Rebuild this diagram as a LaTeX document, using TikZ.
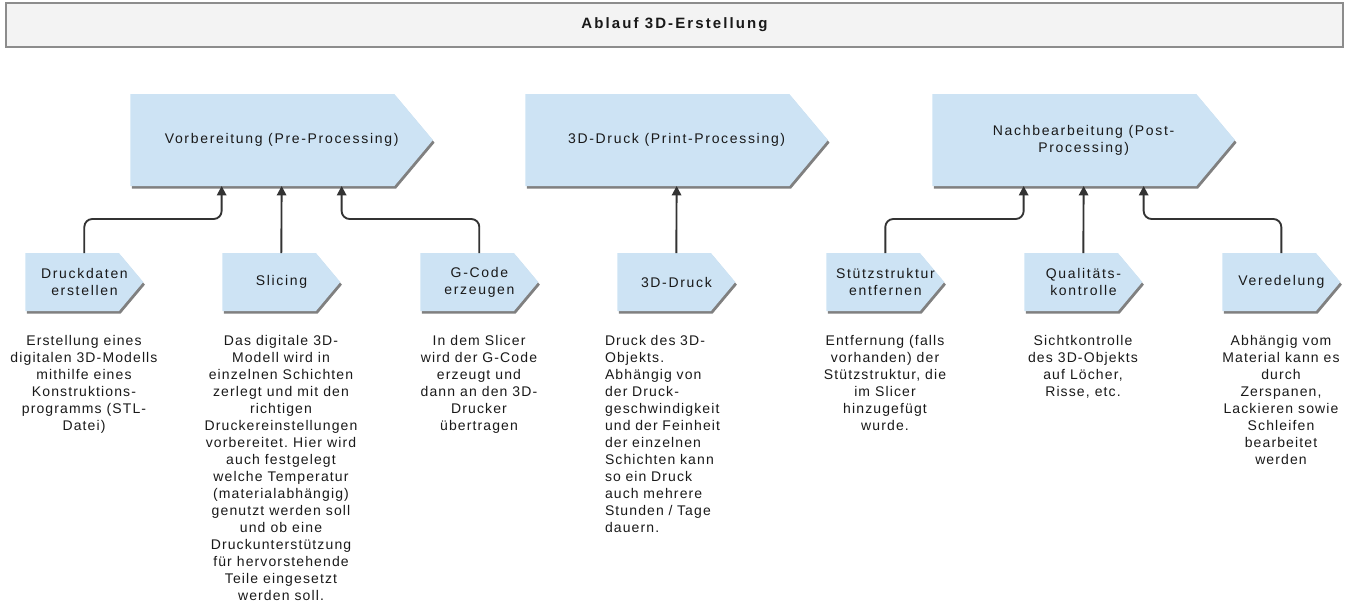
\documentclass[tikz,border=0pt]{standalone}
\usepackage{fontspec}
\setmainfont[LetterSpace=8]{Liberation Sans}
\newfontfamily\labelfont[LetterSpace=12]{Liberation Sans}
\newfontfamily\titlefont[LetterSpace=14]{Liberation Sans}
\frenchspacing
\usetikzlibrary{shapes.symbols,shadows,arrows.meta,calc,positioning}

\definecolor{phasefill}{RGB}{205,227,244}
\definecolor{shadowgray}{RGB}{128,128,128}
\definecolor{linkgray}{RGB}{51,51,51}
\definecolor{titlefill}{RGB}{243,243,243}
\definecolor{titleline}{RGB}{140,140,140}
\definecolor{textgray}{RGB}{25,25,25}

\tikzset{
  titlebox/.style={draw=titleline, fill=titlefill, line width=0.9pt, minimum width=1002.75pt, minimum height=33pt, text=textgray, font=\titlefont\bfseries\fontsize{11.25}{13}\selectfont},
  phase/.style={signal, signal to=east, signal from=nowhere, signal pointer angle=100, fill=phasefill, draw=none, minimum width=227pt, minimum height=69pt, inner sep=2pt, drop shadow={shadow xshift=1.2pt, shadow yshift=-2pt, fill=shadowgray, opacity=1}},
  task/.style={phase, minimum width=88.5pt, minimum height=43.5pt},
  phasetext/.style={xshift=14.5pt, inner sep=0pt, align=center, text=textgray, font=\labelfont\fontsize{10.5}{12.75}\selectfont},
  tasktext/.style={phasetext, xshift=-5.25pt},
  note/.style={anchor=north, align=center, inner sep=0pt, text=textgray, font=\fontsize{10.5}{12.75}\selectfont},
  link/.style={draw=linkgray, line width=1.4pt, rounded corners=6pt, -{Triangle[width=7pt,length=7pt]}}
}

\begin{document}
\begin{tikzpicture}[x=0.75pt,y=-0.75pt]
\useasboundingbox (0,0) rectangle (1366,601);

% title
\node[titlebox] (title) at (674.5,25) {Ablauf 3D-Erstellung};

% phases
\node[phase, anchor=west, label={[phasetext]center:Vorbereitung (Pre-Processing)}] (pre) at (130,140) {};
\node[phase, anchor=west, label={[phasetext]center:3D-Druck (Print-Processing)}] (print) at (525,140) {};
\node[phase, anchor=west, label={[phasetext]center:Nachbearbeitung (Post-\\Processing)}] (post) at (932,140) {};

% tasks
\node[task, anchor=west, label={[tasktext]center:Druckdaten\\erstellen}] (druck) at (25,282) {};
\node[task, anchor=west, label={[tasktext]center:Slicing}] (slice) at (222,282) {};
\node[task, anchor=west, label={[tasktext]center:G-Code\\erzeugen}] (gcode) at (420,282) {};
\node[task, anchor=west, label={[tasktext]center:3D-Druck}] (printjob) at (617,282) {};
\node[task, anchor=west, label={[tasktext]center:Stützstruktur\\entfernen}] (support) at (826,282) {};
\node[task, anchor=west, label={[tasktext]center:Qualitäts-\\kontrolle}] (check) at (1024,282) {};
\node[task, anchor=west, label={[tasktext]center:Veredelung}] (finish) at (1222,282) {};

% connectors
\draw[link] ($(druck.west)!0.5!(druck.east)+(0,-29)$) -- ++(0,-34) -| ($(pre.west)!0.5!(pre.east)+(-60,46)$);
\draw[link] ($(slice.west)!0.5!(slice.east)+(0,-29)$) -- ($(pre.west)!0.5!(pre.east)+(0,46)$);
\draw[link] ($(gcode.west)!0.5!(gcode.east)+(0,-29)$) -- ++(0,-34) -| ($(pre.west)!0.5!(pre.east)+(60,46)$);
\draw[link] ($(printjob.west)!0.5!(printjob.east)+(0,-29)$) -- ($(print.west)!0.5!(print.east)+(0,46)$);
\draw[link] ($(support.west)!0.5!(support.east)+(0,-29)$) -- ++(0,-34) -| ($(post.west)!0.5!(post.east)+(-60,46)$);
\draw[link] ($(check.west)!0.5!(check.east)+(0,-29)$) -- ($(post.west)!0.5!(post.east)+(0,46)$);
\draw[link] ($(finish.west)!0.5!(finish.east)+(0,-29)$) -- ++(0,-34) -| ($(post.west)!0.5!(post.east)+(60,46)$);

% notes
\node[note] (druck-note) at (84,335) {Erstellung eines\\digitalen 3D-Modells\\mithilfe eines\\Konstruktions-\\programms (STL-\\Datei)};
\node[note] (slice-note) at (281,335) {Das digitale 3D-\\Modell wird in\\einzelnen Schichten\\zerlegt und mit den\\richtigen\\Druckereinstellungen\\vorbereitet. Hier wird\\auch festgelegt\\welche Temperatur\\(materialabhängig)\\genutzt werden soll\\und ob eine\\Druckunterstützung\\für hervorstehende\\Teile eingesetzt\\werden soll.};
\node[note] (gcode-note) at (479,335) {In dem Slicer\\wird der G-Code\\erzeugt und\\dann an den 3D-\\Drucker\\übertragen};
\node[note, text width=108pt, align=left] (printjob-note) at (677,335) {Druck des 3D-\\Objekts.\\Abhängig von\\der Druck-\\geschwindigkeit\\und der Feinheit\\der einzelnen\\Schichten kann\\so ein Druck\\auch mehrere\\Stunden / Tage\\dauern.};
\node[note] (support-note) at (885,335) {Entfernung (falls\\vorhanden) der\\Stützstruktur, die\\im Slicer\\hinzugefügt\\wurde.};
\node[note] (check-note) at (1083,335) {Sichtkontrolle\\des 3D-Objekts\\auf Löcher,\\Risse, etc.};
\node[note] (finish-note) at (1281,335) {Abhängig vom\\Material kann es\\durch\\Zerspanen,\\Lackieren sowie\\Schleifen\\bearbeitet\\werden};
\end{tikzpicture}
\end{document}
